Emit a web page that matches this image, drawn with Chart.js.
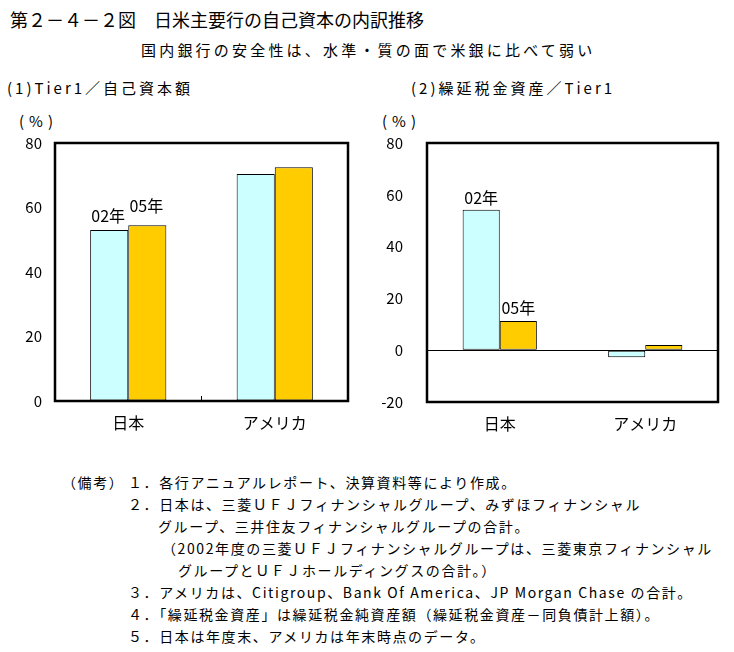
<!DOCTYPE html>
<html>
<head>
<meta charset="utf-8">
<script src="https://cdn.jsdelivr.net/npm/chart.js@4"></script>
<style>
    body { margin: 0; width: 734px; height: 652px; background: #fff; position: relative; overflow: hidden;
           font-family: "Noto Sans CJK JP", sans-serif; color: #000; }
    .txt { position: absolute; white-space: pre; line-height: 1; }
    .title   { left: 10px;  top: 10px; font-size: 18px; }
    .sub     { left: 141px; top: 42px; font-size: 15px; letter-spacing: 3.2px; }
    .head    { top: 80px; font-size: 15px; letter-spacing: 3px; }
    .unit    { top: 113px; font-size: 15px; letter-spacing: 5px; }
    .note    { font-size: 14px; letter-spacing: 1.6px; }
    canvas   { position: absolute; top: 100px; }
</style>
</head>
<body>
<div class="txt title">第２－４－２図　日米主要行の自己資本の内訳推移</div>
<div class="txt sub">国内銀行の安全性は、水準・質の面で米銀に比べて弱い</div>
<div class="txt head" style="left:7px">(1)Tier1／自己資本額</div>
<div class="txt head" style="left:411px">(2)繰延税金資産／Tier1</div>
<div class="txt unit" style="left:19px">(%)</div>
<div class="txt unit" style="left:382px">(%)</div>

<canvas class="leftChart"  width="370" height="340" style="left:0px"></canvas>
<canvas class="rightChart" width="364" height="340" style="left:370px"></canvas>

<div class="txt note" style="left:62px;top:475px">（備考）</div>
<div class="txt note" style="left:128px;top:475px">１．各行アニュアルレポート、決算資料等により作成。</div>
<div class="txt note" style="left:128px;top:497px">２．日本は、三菱ＵＦＪフィナンシャルグループ、みずほフィナンシャル</div>
<div class="txt note" style="left:158px;top:519px">グループ、三井住友フィナンシャルグループの合計。</div>
<div class="txt note" style="left:162px;top:541px">（2002年度の三菱ＵＦＪフィナンシャルグループは、三菱東京フィナンシャル</div>
<div class="txt note" style="left:178px;top:563px">グループとＵＦＪホールディングスの合計。）</div>
<div class="txt note" style="left:128px;top:585px">３．アメリカは、Citigroup、Bank Of America、JP Morgan Chase の合計。</div>
<div class="txt note" style="left:128px;top:607px">４．「繰延税金資産」は繰延税金純資産額（繰延税金資産－同負債計上額）。</div>
<div class="txt note" style="left:128px;top:629px">５．日本は年度末、アメリカは年末時点のデータ。</div>

<script>
//-----------------------------------------------------------------------------
// data
//-----------------------------------------------------------------------------
const categories   = ['日本', 'アメリカ'];
const seriesNames  = ['02年', '05年'];
const seriesColors = ['#CCFFFF', '#FFCC00'];

const tier1Ratio02 = [53.0, 70.4];     // (1) Tier1 / 自己資本額
const tier1Ratio05 = [54.5, 72.5];
const dtaRatio02   = [54.2, -2.7];     // (2) 繰延税金資産 / Tier1
const dtaRatio05   = [11.3, 2.0];

const leftTicks  = [0, 20, 40, 60, 80];
const rightTicks = [-20, 0, 20, 40, 60, 80];

Chart.defaults.font.family = '"Noto Sans CJK JP", sans-serif';
Chart.defaults.color = '#000';
Chart.defaults.animation = false;

//-----------------------------------------------------------------------------
// thick box round the plot area (+ optional small tick between categories)
//-----------------------------------------------------------------------------
const framePlugin = {
    id: 'frame',
    afterDraw(chart, args, opts){
        const { ctx, chartArea: a, scales } = chart;
        ctx.save();
        ctx.strokeStyle = '#000';
        if (opts.midTick){
            const x = scales.x.getPixelForValue(0.5);
            ctx.lineWidth = 1;
            ctx.beginPath();
            ctx.moveTo(x, a.bottom);
            ctx.lineTo(x, a.bottom - 5);
            ctx.stroke();
        }
        ctx.lineWidth = 2.5;
        ctx.strokeRect(a.left, a.top, a.right - a.left, a.bottom - a.top);
        ctx.restore();
    }
};
//-----------------------------------------------------------------------------
// "02年" / "05年" written over the 日本 bars
//-----------------------------------------------------------------------------
const barLabelPlugin = {
    id: 'barLabels',
    afterDatasetsDraw(chart, args, opts){
        const ctx = chart.ctx;
        ctx.save();
        ctx.font = '16px "Noto Sans CJK JP"';
        ctx.fillStyle = '#000';
        ctx.textAlign = 'center';
        ctx.textBaseline = 'middle';
        chart.data.datasets.forEach((ds, i) => {
            const bar = chart.getDatasetMeta(i).data[opts.index];
            ctx.fillText(ds.label, bar.x + opts.dx[i], bar.y - opts.dy[i]);
        });
        ctx.restore();
    }
};
//-----------------------------------------------------------------------------
function makeDatasets(values02, values05){
    return [values02, values05].map((vals, idx) => ({
        label: seriesNames[idx],
        data: vals,
        backgroundColor: seriesColors[idx],
        borderColor: '#000',
        borderWidth: 1,
        borderSkipped: false,
    }));
}
//-----------------------------------------------------------------------------
function drawBarChart(selector, datasets, ticks, cfg){
    return new Chart(document.querySelector(selector), {
        type: 'bar',
        data: { labels: categories, datasets: datasets },
        plugins: [framePlugin, barLabelPlugin],
        options: {
            responsive: false,
            categoryPercentage: cfg.catPct,
            barPercentage: 1.0,
            layout: { padding: { left: 0, top: 43, right: cfg.padRight, bottom: 0 } },
            plugins: {
                legend: { display: false },
                tooltip: { enabled: false },
                frame: { midTick: cfg.midTick },
                barLabels: { index: 0, dx: cfg.labelDx, dy: cfg.labelDy },
            },
            scales: {
                x: {
                    grid: { display: false, drawTicks: false },
                    border: { display: false },
                    ticks: { font: { size: 16 }, padding: 12 },
                    afterFit: s => { s.height = cfg.xHeight; },
                },
                y: {
                    min: ticks[0],
                    max: ticks[ticks.length - 1],
                    grid: {
                        drawTicks: false,
                        color: c => (c.tick && c.tick.value === 0) ? '#000' : 'rgba(0,0,0,0)',
                        lineWidth: 1,
                    },
                    border: { display: false },
                    ticks: { font: { size: 15 }, padding: cfg.yPad },
                    afterBuildTicks: s => { s.ticks = ticks.map(v => ({ value: v })); },
                    afterFit: s => { s.width = cfg.yWidth; },
                },
            },
        },
    });
}
//-----------------------------------------------------------------------------
drawBarChart('.leftChart', makeDatasets(tier1Ratio02, tier1Ratio05), leftTicks, {
    catPct: 0.52, padRight: 22, xHeight: 39, yWidth: 55, yPad: 13,
    midTick: true, labelDx: [-1, -1], labelDy: [14, 19],
});
drawBarChart('.rightChart', makeDatasets(dtaRatio02, dtaRatio05), rightTicks, {
    catPct: 0.51, padRight: 16, xHeight: 38, yWidth: 57, yPad: 24,
    midTick: false, labelDx: [0, 0], labelDy: [12, 13],
});
</script>
</body>
</html>
